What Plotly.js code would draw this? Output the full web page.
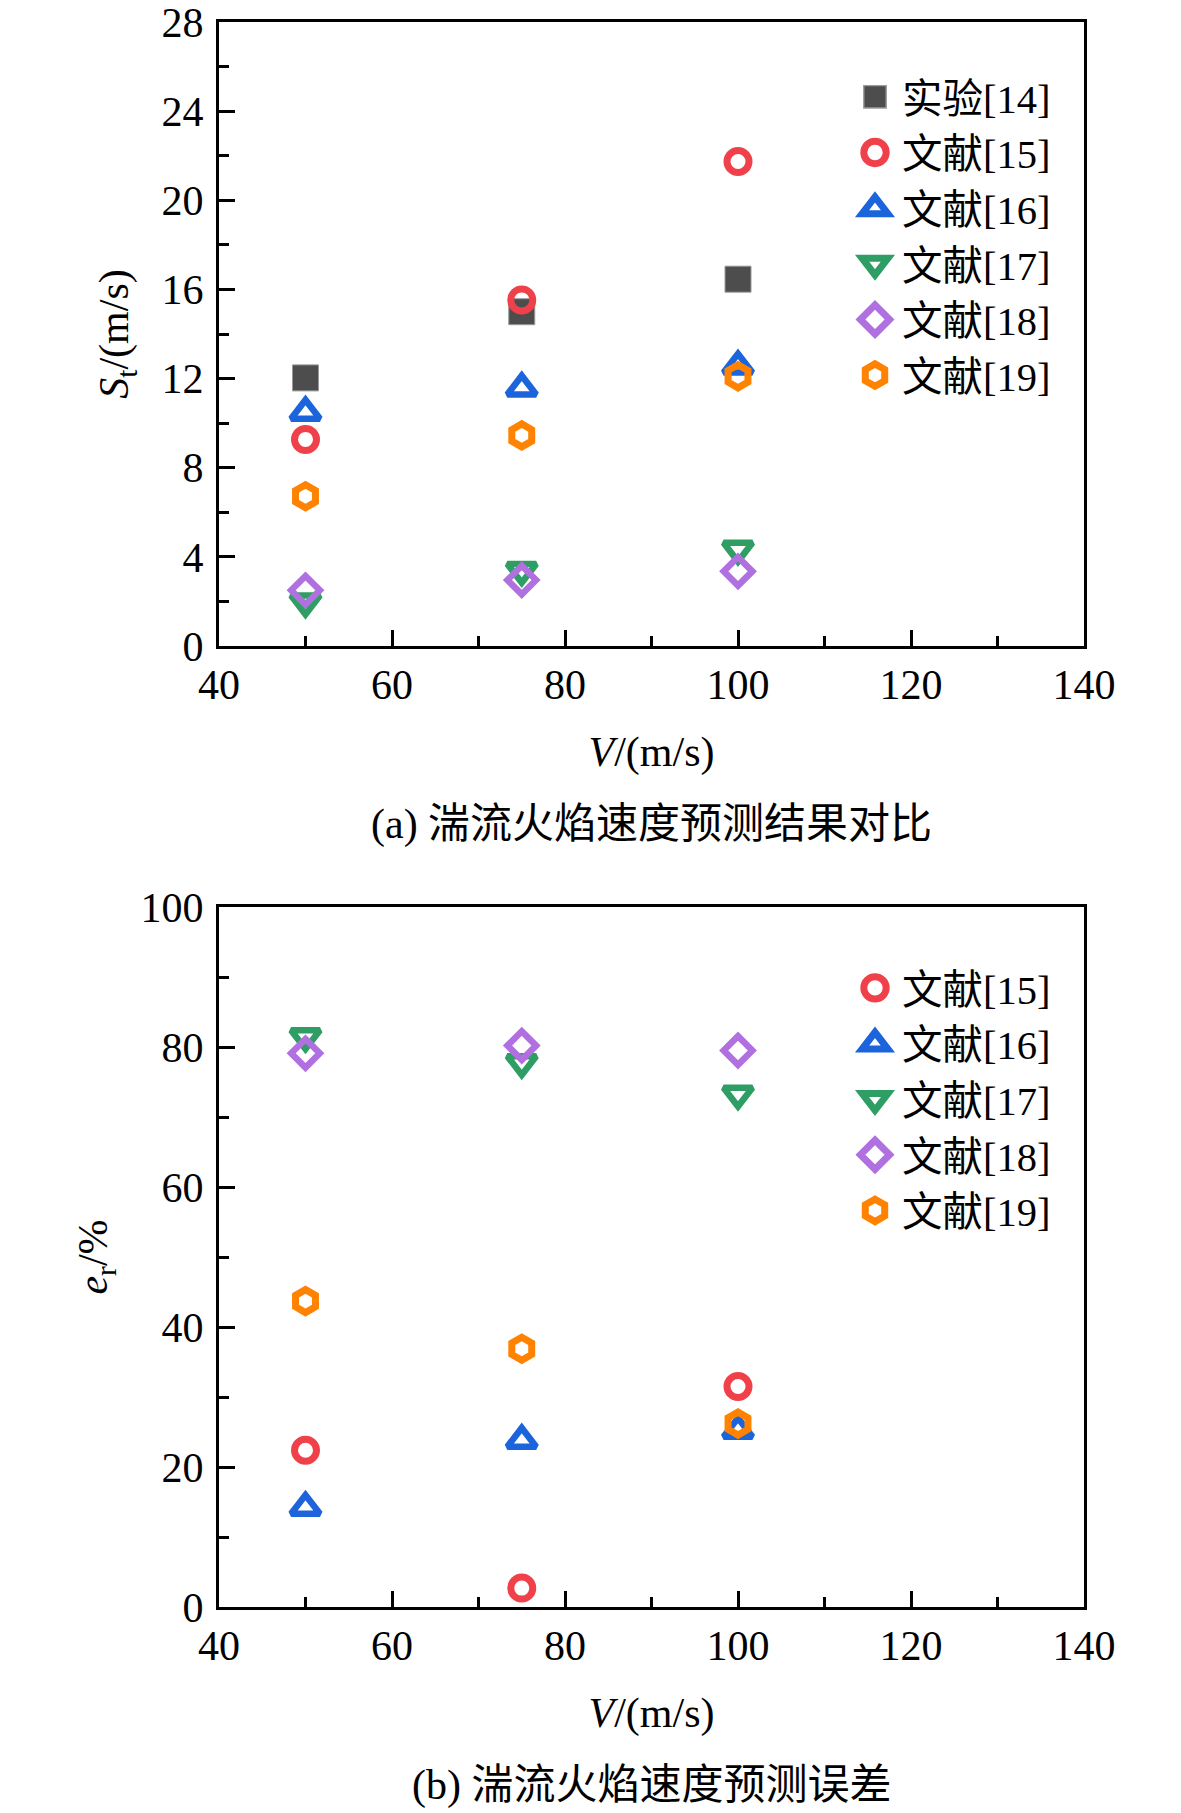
<!DOCTYPE html>
<html>
<head>
<meta charset="utf-8">
<script src="https://cdn.plot.ly/plotly-3.0.1.min.js"></script>
<style>
  html, body { margin: 0; padding: 0; background: #fff; }
</style>
</head>
<body>
<div id="chart" style="width:1181px;height:1813px"></div>
<script>
// flow speeds V (m/s)
const speeds = [50, 75, 100];

// (a) turbulent flame speed St (m/s)
const stExp14 = [12.03, 15.0, 16.46];
const stRef15 = [9.27, 15.53, 21.74];
const stRef16 = [10.48, 11.57, 12.55];
const stRef17 = [1.98, 3.4, 4.35];
const stRef18 = [2.5, 2.96, 3.35];
const stRef19 = [6.72, 9.45, 12.1];

// (b) prediction error er (%)
const erRef15 = [22.4, 2.7, 31.5];
const erRef16 = [14.2, 23.8, 25.2];
const erRef17 = [81.5, 77.8, 73.3];
const erRef18 = [79.1, 80.2, 79.5];
const erRef19 = [43.7, 36.9, 26.2];

const names = ['实验[14]', '文献[15]', '文献[16]', '文献[17]', '文献[18]', '文献[19]'];

const FONT = 'Liberation Serif, "Noto Sans CJK SC", serif';
const W = 1181, H = 1813;

// marker styles per series
const styles = {
  exp14: { symbol: 'square', size: 26, color: '#4d4d4d', line: { color: '#9a9a9a', width: 1 } },
  ref15: { symbol: 'circle-open', size: 22, color: '#f0414a', line: { color: '#f0414a', width: 7 } },
  ref16: { symbol: 'triangle-up-open', size: 25, color: '#1c64dc', line: { color: '#1c64dc', width: 6.5 } },
  ref17: { symbol: 'triangle-down-open', size: 25, color: '#2f9e64', line: { color: '#2f9e64', width: 6.5 } },
  ref18: { symbol: 'diamond-open', size: 22, color: '#b070e0', line: { color: '#b070e0', width: 6.5 } },
  ref19: { symbol: 'hexagon-open', size: 23, color: '#ff8200', line: { color: '#ff8200', width: 7 } }
};

function pt(name, ys, style, xa, ya, legend) {
  return {
    type: 'scatter',
    mode: 'markers',
    name: name,
    x: speeds,
    y: ys,
    xaxis: xa,
    yaxis: ya,
    legend: legend,
    marker: style,
    cliponaxis: false
  };
}

const data = [
  pt(names[0], stExp14, styles.exp14, 'x', 'y', 'legend'),
  pt(names[1], stRef15, styles.ref15, 'x', 'y', 'legend'),
  pt(names[2], stRef16, styles.ref16, 'x', 'y', 'legend'),
  pt(names[3], stRef17, styles.ref17, 'x', 'y', 'legend'),
  pt(names[4], stRef18, styles.ref18, 'x', 'y', 'legend'),
  pt(names[5], stRef19, styles.ref19, 'x', 'y', 'legend'),
  pt(names[1], erRef15, styles.ref15, 'x2', 'y2', 'legend2'),
  pt(names[2], erRef16, styles.ref16, 'x2', 'y2', 'legend2'),
  pt(names[3], erRef17, styles.ref17, 'x2', 'y2', 'legend2'),
  pt(names[4], erRef18, styles.ref18, 'x2', 'y2', 'legend2'),
  pt(names[5], erRef19, styles.ref19, 'x2', 'y2', 'legend2')
];

// pixel helpers for the layout boxes
const px = v => v / W;
const py = v => 1 - v / H;

function xAxis(anchor) {
  return {
    anchor: anchor,
    domain: [px(219), px(1084)],
    range: [40, 140],
    dtick: 20,
    tick0: 40,
    ticks: 'inside',
    ticklen: 16,
    tickwidth: 3,
    tickcolor: '#000',
    minor: { ticks: 'inside', ticklen: 10, tickwidth: 3, dtick: 10, tickcolor: '#000' },
    showline: true,
    linewidth: 3,
    linecolor: '#000',
    mirror: true,
    showgrid: false,
    zeroline: false,
    ticklabeloverflow: 'allow',
    tickfont: { family: FONT, size: 42, color: '#000' },
    title: { text: '<i>V</i>/(m/s)', font: { family: FONT, size: 42, color: '#000' }, standoff: 30 }
  };
}

function yAxis(anchor, domain, max, dtick, minor, title) {
  return {
    anchor: anchor,
    domain: domain,
    range: [0, max],
    dtick: dtick,
    ticks: 'inside',
    ticklen: 16,
    tickwidth: 3,
    tickcolor: '#000',
    minor: { ticks: 'inside', ticklen: 10, tickwidth: 3, dtick: minor, tickcolor: '#000' },
    showline: true,
    linewidth: 3,
    linecolor: '#000',
    mirror: true,
    showgrid: false,
    zeroline: false,
    ticklabelstandoff: 4,
    ticklabeloverflow: 'allow',
    tickfont: { family: FONT, size: 42, color: '#000' },
    title: { text: title, font: { family: FONT, size: 42, color: '#000' }, standoff: 20 }
  };
}

const legendBase = {
  xanchor: 'left',
  yanchor: 'top',
  bgcolor: 'rgba(0,0,0,0)',
  borderwidth: 0,
  tracegroupgap: 0,
  itemwidth: 44,
  itemclick: false,
  font: { family: FONT, size: 40.5, color: '#000' }
};

const layout = {
  width: W,
  height: H,
  margin: { l: 0, r: 0, t: 0, b: 0 },
  paper_bgcolor: '#fff',
  plot_bgcolor: '#fff',
  showlegend: true,
  xaxis: xAxis('y'),
  yaxis: yAxis('x', [py(646), py(22)], 28, 4, 2, '<i>S</i><sub>t</sub>/(m/s)'),
  xaxis2: xAxis('y2'),
  yaxis2: yAxis('x2', [py(1607), py(907)], 100, 20, 10, '<i>e</i><sub>r</sub>/%'),
  legend: Object.assign({}, legendBase, { x: px(848), y: py(64) }),
  legend2: Object.assign({}, legendBase, { x: px(848), y: py(955) }),
  annotations: [
    {
      text: '(a) 湍流火焰速度预测结果对比',
      xref: 'paper', yref: 'paper', x: px(651), y: py(824),
      xanchor: 'center', yanchor: 'middle', showarrow: false,
      font: { family: FONT, size: 42, color: '#000' }
    },
    {
      text: '(b) 湍流火焰速度预测误差',
      xref: 'paper', yref: 'paper', x: px(651), y: py(1785),
      xanchor: 'center', yanchor: 'middle', showarrow: false,
      font: { family: FONT, size: 42, color: '#000' }
    }
  ]
};

const config = { staticPlot: true, displayModeBar: false };

Plotly.newPlot('chart', data, layout, config).then(() => {
  // legend symbols are capped in size by Plotly, enlarge them to match the plot markers
  document.querySelectorAll('.legendpoints path').forEach(p => {
    const t = p.getAttribute('transform') || '';
    p.setAttribute('transform', t + ' scale(1.4)');
  });
});
</script>
</body>
</html>
